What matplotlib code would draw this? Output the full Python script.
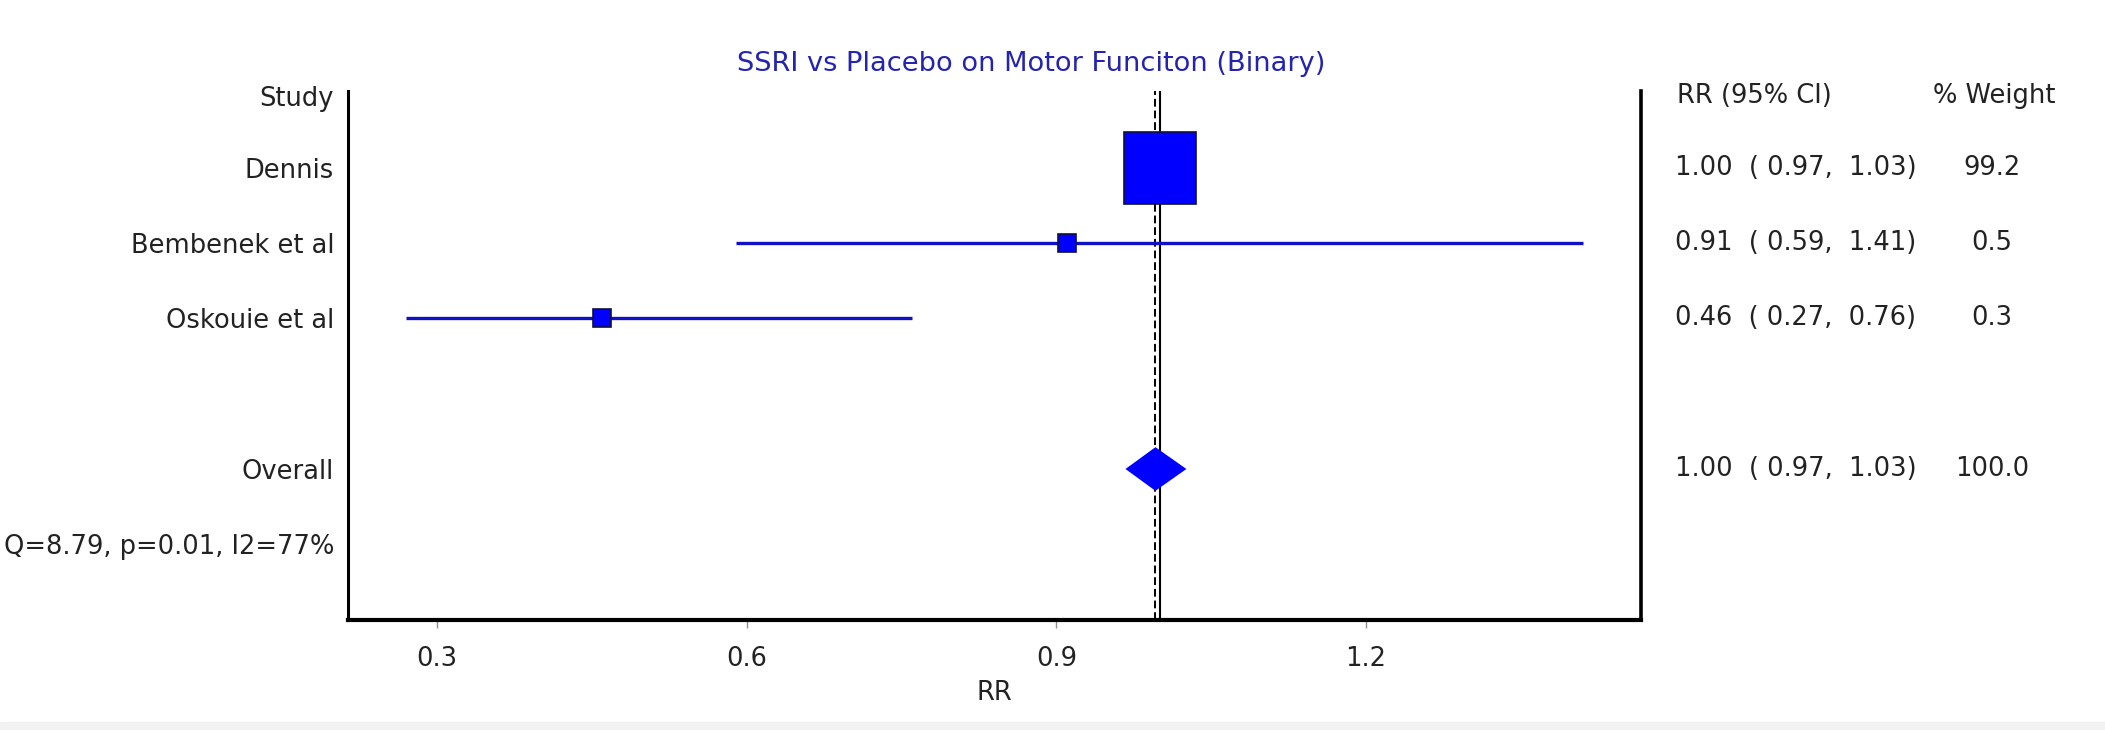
import matplotlib
matplotlib.use('Agg')
import matplotlib.pyplot as plt
import numpy as np

# study data
studies = ['Dennis', 'Bembenek et al', 'Oskouie et al']
rr = np.array([1.00, 0.91, 0.46])
ci_low = np.array([0.97, 0.59, 0.27])
ci_high = np.array([1.03, 1.41, 0.76])
weights = np.array([99.2, 0.5, 0.3])

# pooled result
overall_rr = 0.996
overall_low = 0.967
overall_high = 1.026
overall_weight = 100.0

# heterogeneity
q_stat = 8.79
q_p = 0.01
i2 = 77

xticks = [0.3, 0.6, 0.9, 1.2]

plt.rcParams['font.family'] = 'DejaVu Sans'
plt.rcParams['font.size'] = 18.5
txt_col = '#222222'

W, H = 2105, 730
fig = plt.figure(figsize=(W / 100, H / 100), dpi=100)
ax = fig.add_axes([348 / W, (H - 619.5) / H, (1641 - 348) / W, (619.5 - 91) / H])

rows = np.arange(1, len(studies) + 1)
overall_row = len(studies) + 2
q_row = overall_row + 1

# reference lines
ax.axvline(1.0, color='black', lw=1.5, zorder=1)
ax.axvline(overall_rr, color='black', lw=1.4, dashes=(4, 2), zorder=1)

# CI lines and squares
ax.hlines(rows, ci_low, ci_high, color='#1010c4', lw=2.4, zorder=2)
sizes = np.clip(52 * np.sqrt(weights / weights.max()), 13.5, None)
for y, x, s in zip(rows, rr, sizes):
    ax.plot(x, y, marker='s', ms=s, mfc='#0000ff', mec='#101040', mew=1.2, zorder=3)

# overall diamond
hh = 0.29
ax.fill([overall_low, overall_rr, overall_high, overall_rr],
        [overall_row, overall_row - hh, overall_row, overall_row + hh],
        color='#0000ff', lw=0, zorder=3)

ax.set_xlim(0.2138, 1.4664)
ax.set_ylim(7.0, -0.023)
ax.set_xticks(xticks)
ax.set_xticklabels(['%.1f' % t for t in xticks], color=txt_col)
ax.tick_params(axis='x', length=6, width=1, color='#909090', pad=13)

ylabels = ['Study'] + studies + ['Overall', 'Q=%.2f, p=%.2f, I2=%d%%' % (q_stat, q_p, i2)]
ax.set_yticks([0.05] + list(rows) + [overall_row, q_row])
ax.set_yticklabels(ylabels, color=txt_col)
ax.tick_params(axis='y', length=0, pad=10)

ax.set_xlabel('RR', color=txt_col, labelpad=6)

ax.spines['top'].set_visible(False)
ax.spines['left'].set_linewidth(2.2)
ax.spines['right'].set_linewidth(2.6)
ax.spines['bottom'].set_linewidth(3.0)

# right-hand columns
tr = ax.get_yaxis_transform()
ax.text(1.0278, 0.05, 'RR (95% CI)', transform=tr, ha='left', va='center', color=txt_col)
ax.text(1.273, 0.05, '% Weight', transform=tr, ha='center', va='center', color=txt_col)
for y, r, lo, hi, w in zip(rows, rr, ci_low, ci_high, weights):
    ax.text(1.0263, y, '%.2f  ( %.2f,  %.2f)' % (r, lo, hi), transform=tr,
            ha='left', va='center', color=txt_col)
    ax.text(1.2715, y, '%.1f' % w, transform=tr, ha='center', va='center', color=txt_col)
ax.text(1.0263, overall_row, '%.2f  ( %.2f,  %.2f)' % (overall_rr, overall_low, overall_high),
        transform=tr, ha='left', va='center', color=txt_col)
ax.text(1.2715, overall_row, '%.1f' % overall_weight, transform=tr,
        ha='center', va='center', color=txt_col)

fig.text(1031 / W, 1 - 64 / H, 'SSRI vs Placebo on Motor Funciton (Binary)',
         ha='center', va='center', color='#2424b0', fontsize=19.6)

# faint band along the bottom edge
fig.patches.append(plt.Rectangle((0, 0), 1, 8 / H, transform=fig.transFigure,
                                 color='#f2f2f2', zorder=0))

fig.savefig('out.png', dpi=100)
